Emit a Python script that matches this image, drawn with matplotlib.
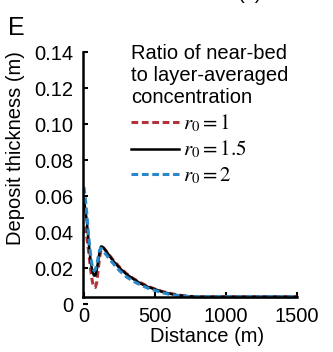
import matplotlib
matplotlib.use("Agg")
import matplotlib.pyplot as plt

plt.rcParams['font.family'] = ['Liberation Sans', 'DejaVu Sans']
plt.rcParams['mathtext.fontset'] = 'stix'

distance = [0, 10, 20, 30, 40, 50, 60, 70, 80, 90, 100, 110, 120, 130, 140, 150,
            200, 250, 300, 350, 400, 450, 500, 550, 600, 650, 700, 750, 800,
            1000, 1200, 1500]

thick_r1 = [0.043, 0.041, 0.037, 0.031, 0.024, 0.017, 0.012, 0.0095, 0.0092, 0.012,
            0.019, 0.026, 0.030, 0.0315, 0.031, 0.030,
            0.025, 0.0205, 0.0168, 0.014, 0.0118, 0.0098, 0.0083, 0.007, 0.006, 0.0052,
            0.0046, 0.0042, 0.004, 0.004, 0.004, 0.004]

thick_r15 = [0.058, 0.052, 0.046, 0.037, 0.029, 0.022, 0.018, 0.0158, 0.0158, 0.019,
             0.024, 0.029, 0.032, 0.0318, 0.031, 0.030,
             0.0245, 0.020, 0.0165, 0.0138, 0.0113, 0.0095, 0.0082, 0.0068, 0.0058, 0.005,
             0.0045, 0.0042, 0.004, 0.004, 0.004, 0.004]

thick_r2 = [0.065, 0.058, 0.050, 0.040, 0.032, 0.025, 0.020, 0.0185, 0.019, 0.022,
            0.026, 0.030, 0.031, 0.030, 0.029, 0.028,
            0.023, 0.0185, 0.015, 0.0125, 0.0105, 0.0088, 0.0075, 0.0063, 0.0054, 0.0048,
            0.0044, 0.0041, 0.004, 0.004, 0.004, 0.004]

labels = ['$r_0 = 1$', '$r_0 = 1.5$', '$r_0 = 2$']
x_ticks = [0, 500, 1000, 1500]
y_ticks = [0, 0.02, 0.04, 0.06, 0.08, 0.10, 0.12, 0.14]
y_ticklabels = ['0', '0.02', '0.04', '0.06', '0.08', '0.10', '0.12', '0.14']

W, H = 333, 352
fig = plt.figure(figsize=(W / 100, H / 100), dpi=100)
ax = fig.add_axes([83 / W, 1 - 304 / H, (297 - 83) / W, (304 - 52) / H])

red = '#b3333a'
blue = '#2a87c8'
ax.plot(distance, thick_r1, color=red, lw=2.2, ls=(0, (2.2, 1.2)), label=labels[0])
ax.plot(distance, thick_r15, color='black', lw=1.8, ls='-', label=labels[1])
ax.plot(distance, thick_r2, color=blue, lw=2.2, ls=(0, (2.2, 1.2)), label=labels[2])

ax.set_xlim(-7, 1500)
ax.set_ylim(0, 0.14)
ax.set_xticks(x_ticks)
ax.set_yticks(y_ticks)
ax.set_yticklabels(y_ticklabels)

for s in ['top', 'right']:
    ax.spines[s].set_visible(False)
ax.spines['bottom'].set_position(('data', 0.004))
ax.spines['left'].set_bounds(0.004, 0.14)
for s in ['left', 'bottom']:
    ax.spines[s].set_linewidth(1.8)

ax.tick_params(axis='both', direction='in', length=3.8, width=1.5, labelsize=14.5, pad=7)

ax.set_xlabel('Distance (m)', fontsize=14.5, va='center')
ax.xaxis.set_label_coords((207 - 83) / 214, (304 - 336) / 252)
ax.set_ylabel('Deposit thickness (m)', fontsize=14.5, va='center')
ax.yaxis.set_label_coords((16 - 83) / 214, (304 - 148) / 252)

leg = ax.legend(title='Ratio of near-bed\nto layer-averaged\nconcentration',
                loc='upper left', bbox_to_anchor=(131 / W, 1 - 44 / H),
                bbox_transform=fig.transFigure, frameon=False,
                fontsize=14.5, title_fontsize=14.5, alignment='left',
                borderpad=0, borderaxespad=0, handlelength=2.4, handletextpad=0.2,
                labelspacing=0.25)
for t in leg.get_texts():
    t.set_fontsize(15)

fig.text(8 / W, 1 - 35 / H, 'E', fontsize=18, ha='left', va='baseline')
fig.text(250 / W, 1 + 1 / H, '(e)', fontsize=14.5, ha='center', va='baseline')

fig.savefig('out.png', dpi=100)
